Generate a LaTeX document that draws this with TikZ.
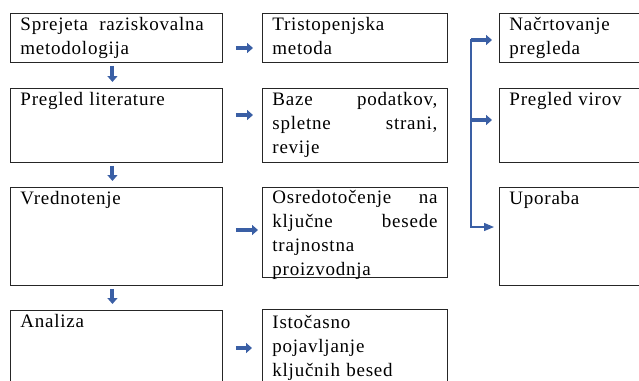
\documentclass[tikz,border=0pt]{standalone}
\usepackage{fontspec}
\newfontfamily\boxfont[LetterSpace=4]{Liberation Serif}
\usetikzlibrary{arrows.meta}
\definecolor{arrowblue}{RGB}{58,95,165}
\tikzset{
  box/.style={draw=black!85, line width=0.9pt, anchor=north west, inner xsep=10pt, inner ysep=0pt,
    align=left, text height=17pt, font=\boxfont\fontsize{19}{24}\selectfont},
  blockarrow/.style={arrowblue, line width=4pt, -{Triangle[length=6pt,width=10pt]}},
  thinarrow/.style={arrowblue, line width=1.3pt, -{Triangle[length=10pt,width=8pt]}}
}
\begin{document}
\begin{tikzpicture}[x=1pt,y=-1pt]
  \useasboundingbox (0,0) rectangle (639,380);
  \clip (0,0) rectangle (639,380);
  \node[box, text width=192pt, text depth=32pt] (met) at (10,13) {Sprejeta\hspace{5pt} raziskovalna\\metodologija};
  \node[box, text width=192pt, text depth=57pt] (lit) at (10,88) {Pregled literature};
  \node[box, text width=192pt, text depth=81pt] (vred) at (10,187) {Vrednotenje};
  \node[box, text width=192pt, text depth=90pt] (anal) at (10,310) {Analiza};
  \node[box, text width=165pt, text depth=32pt] (tri) at (262,13) {Tristopenjska\\metoda};
  \node[box, text width=165pt, text depth=57pt, align=justify] (baze) at (262,88)
    {Baze podatkov,\linebreak spletne strani,\linebreak revije};
  \node[box, text width=165pt, text depth=74pt, text height=16pt, align=justify] (osr) at (262,187)
    {Osredotočenje na\linebreak ključne besede\linebreak trajnostna\\proizvodnja};
  \node[box, text width=165pt, text depth=90pt, text height=19pt] (ist) at (262,309)
    {Istočasno\\pojavljanje\\ključnih besed};
  \node[box, text width=180pt, text depth=32pt] (nacrt) at (499,13) {Načrtovanje\\pregleda};
  \node[box, text width=180pt, text depth=57pt] (virov) at (499,88) {Pregled virov};
  \node[box, text width=180pt, text depth=81pt] (upor) at (499,187) {Uporaba};
  \coordinate (forktop) at (471,39);
  \draw[blockarrow] ([shift={(-4,3)}]met.south) -- ([shift={(-4,-6)}]lit.north);
  \draw[blockarrow] ([shift={(-4,3)}]lit.south) -- ([shift={(-4,-6)}]vred.north);
  \draw[blockarrow] ([shift={(-4,3)}]vred.south) -- ([shift={(-4,-6)}]anal.north);
  \draw[blockarrow] ([shift={(13,35)}]met.north east) -- ([shift={(-9,35)}]tri.north west);
  \draw[blockarrow] ([shift={(13,27)}]lit.north east) -- ([shift={(-9,27)}]baze.north west);
  \draw[blockarrow] ([shift={(13,43)}]vred.north east) -- ([shift={(-4,43)}]osr.north west);
  \draw[blockarrow] ([shift={(13,38)}]anal.north east) -- ([shift={(-10,39)}]ist.north west);
  \draw[thinarrow] (forktop) |- ([shift={(-5,40)}]upor.north west);
  \draw[blockarrow] ([shift={(-28,27)}]nacrt.north west) -- ([shift={(-7,27)}]nacrt.north west);
  \draw[blockarrow] ([shift={(-28,32)}]virov.north west) -- ([shift={(-7,32)}]virov.north west);
\end{tikzpicture}
\end{document}
